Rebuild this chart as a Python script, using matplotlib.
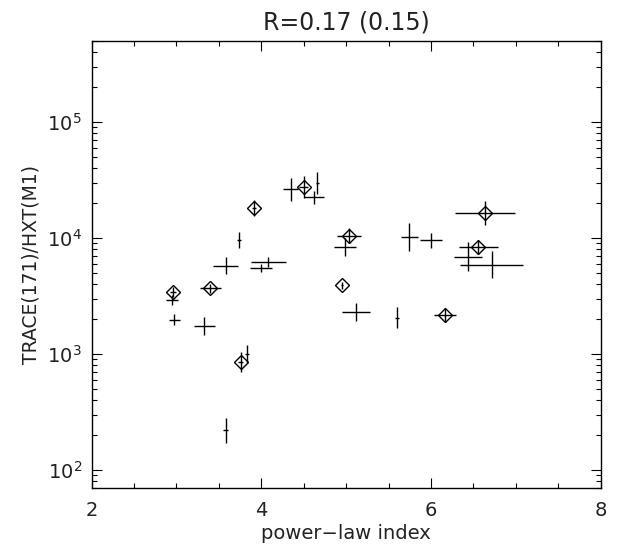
import numpy as np
import matplotlib
matplotlib.use('Agg')
import matplotlib.pyplot as plt
from matplotlib.ticker import LogLocator, MultipleLocator, FixedLocator

# events marked with a diamond
dia_x = [2.96, 3.40, 3.915, 4.50, 5.03, 4.95, 3.76, 6.17, 6.64, 6.56]
dia_y = [3420, 3680, 18070, 27350, 10470, 3930, 849, 2170, 16370, 8380]
dia_xerr = [0.04, 0.127, 0.02, 0.05, 0.14, 0.01, 0.03, 0.13, 0.353, 0.235]
dia_yerr = [0.04, 0.04, 0.07, 0.094, 0.064, 0.03, 0.086, 0.06, 0.103, 0.06]  # dex

# events plotted as error crosses only
crs_x = [2.974, 2.951, 3.327, 3.579, 3.739, 3.833, 3.582, 4.08, 3.994, 4.347,
         4.621, 4.661, 4.982, 5.12, 5.598, 5.747, 6.002, 6.433, 6.715]
crs_y = [1970, 2920, 1745, 5800, 9660, 1000, 220, 6220, 5530, 26300,
         22450, 29900, 8380, 2300, 2060, 10200, 9530, 6920, 5900]
crs_xerr = [0.063, 0.068, 0.124, 0.147, 0.02, 0.02, 0.03, 0.206, 0.13, 0.088,
            0.118, 0.015, 0.13, 0.167, 0.025, 0.10, 0.127, 0.167, 0.37]
crs_yerr = [0.047, 0.043, 0.077, 0.075, 0.071, 0.075, 0.107, 0.043, 0.034, 0.10,
            0.054, 0.097, 0.079, 0.079, 0.093, 0.118, 0.062, 0.122, 0.114]  # dex


def asym(y, dex):
    y = np.asarray(y, float)
    d = np.asarray(dex, float)
    return [y - y / 10**d, y * 10**d - y]


plt.rcParams['font.family'] = ['DejaVu Sans']
fig = plt.figure(figsize=(6.29, 5.51), dpi=100)
ax = fig.add_axes([0.1455, 0.1143, 0.8095, 0.8113])

ax.errorbar(crs_x, crs_y, xerr=crs_xerr, yerr=asym(crs_y, crs_yerr),
            fmt='none', ecolor='black', elinewidth=1.0, capsize=0)
ax.errorbar(dia_x, dia_y, xerr=dia_xerr, yerr=asym(dia_y, dia_yerr),
            fmt='D', mfc='none', mec='black', mew=1.0, ms=6.8,
            ecolor='black', elinewidth=1.0, capsize=0)

ax.set_yscale('log')
ax.set_xlim(2, 8)
ax.set_ylim(70, 5e5)
ax.xaxis.set_major_locator(FixedLocator([2, 4, 6, 8]))
ax.xaxis.set_minor_locator(MultipleLocator(0.5))
ax.yaxis.set_major_locator(LogLocator(base=10, numticks=10))
ax.yaxis.set_minor_locator(LogLocator(base=10, subs=np.arange(2, 10), numticks=20))

txt = '#222222'
ax.tick_params(which='both', direction='in', top=True, right=True, width=0.8,
               labelcolor=txt)
ax.tick_params(which='major', length=7)
ax.tick_params(which='minor', length=3.5)
ax.tick_params(axis='x', which='major', pad=9, labelsize=14)
ax.tick_params(axis='y', which='major', pad=7, labelsize=14)
ax.tick_params(axis='y', which='minor', labelleft=False)
for s in ax.spines.values():
    s.set_linewidth(1.0)

ax.set_xlabel('power\u2212law index', fontsize=14, labelpad=3, color=txt)
ax.set_ylabel('TRACE(171)/HXT(M1)', fontsize=13.5, labelpad=5, color=txt)
ax.set_title('R=0.17 (0.15)', fontsize=17, pad=8, color=txt)

fig.savefig('out.png', dpi=100)
